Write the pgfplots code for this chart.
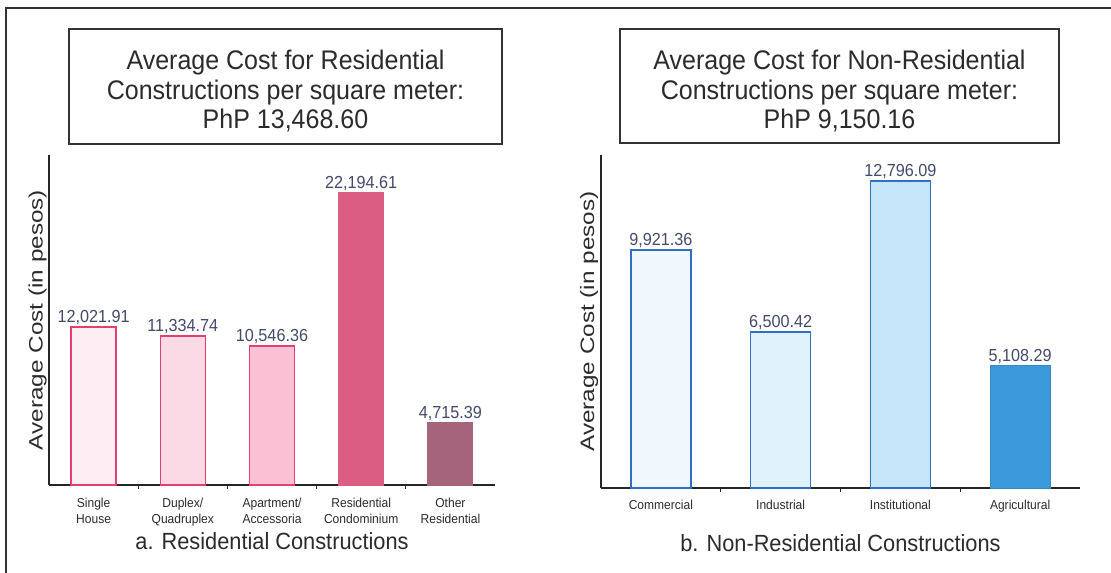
\documentclass[border=0pt]{standalone}
\usepackage{fontspec}
\setmainfont{Liberation Sans}[FakeStretch=0.93]
\newfontfamily\ylfont{Liberation Sans}[FakeStretch=1.25]
\usepackage{pgfplots}
\pgfplotsset{compat=1.18}
\definecolor{valcol}{HTML}{434A6B}
\definecolor{txt}{HTML}{2B2B2B}
\definecolor{pinkline}{HTML}{E43F6D}
\definecolor{pA}{HTML}{FDEEF3}
\definecolor{pB}{HTML}{FCDAE5}
\definecolor{pC}{HTML}{F9C1D3}
\definecolor{pD}{HTML}{DB5D84}
\definecolor{pE}{HTML}{A6637C}
\definecolor{blueline}{HTML}{2F70C4}
\definecolor{bA}{HTML}{F0F8FD}
\definecolor{bB}{HTML}{E0F3FC}
\definecolor{bC}{HTML}{C4E6F8}
\definecolor{bD}{HTML}{3A99DA}
\pgfplotsset{
  panel/.style={
    anchor=south west, scale only axis,
    ymin=0,
    axis x line=bottom, axis y line=left,
    axis line style={line width=1.2bp, black!85, -},
    ytick=\empty,
    major x tick style={draw=none},
    minor tick length=4bp, tick align=outside,
    minor x tick style={black!85, line width=1bp},
    xticklabel style={font=\fontsize{13}{16}\selectfont, align=center, text=txt},
    xlabel style={anchor=center, font=\fontsize{23.5}{28}\selectfont, text=txt},
    ylabel={Average Cost (in pesos)},
    ylabel style={anchor=center, font=\ylfont\fontsize{19.5}{24}\selectfont, text=txt},
    nodes near coords, point meta=explicit symbolic,
    every node near coord/.append style={font=\fontsize{17.5}{20}\selectfont, text=valcol, anchor=south, yshift=-2bp},
    clip=false,
  },
}
\begin{document}
\begin{tikzpicture}
\useasboundingbox (0,0) rectangle (1111bp,573bp);
\draw[line width=1.8bp, black!80] (6bp,0bp) -- (6bp,565bp) -- (1111bp,565bp);
\draw[black!80, line width=1.3bp] (69bp,544bp) rectangle (502bp,429bp);
\draw[black!80, line width=1.3bp] (620bp,544bp) rectangle (1059bp,430bp);
\node[align=center, font=\fontsize{27}{29.5}\selectfont, text=txt] at (285.5bp,482bp)
      {Average Cost for Residential\\Constructions per square meter:\\PhP 13,468.60};
\node[align=center, font=\fontsize{27}{29.5}\selectfont, text=txt] at (839.5bp,482bp)
      {Average Cost for Non-Residential\\Constructions per square meter:\\PhP 9,150.16};

\begin{axis}[panel,
  at={(49bp,88bp)}, width=446bp, height=330bp,
  xmin=-0.5, xmax=4.5, ymax=25076,
  xtick={0,1,2,3,4},
  xticklabels={{Single\\House},{Duplex/\\Quadruplex},{Apartment/\\Accessoria},{Residential\\Condominium},{Other\\Residential}},
  xticklabel style={yshift=-5bp},
  minor xtick={0.5,1.5,2.5,3.5},
  xlabel={a. Residential Constructions},
  xlabel style={at={(axis description cs:0.5,-0.1697)}},
  ylabel style={at={(axis description cs:-0.0258,0.5)}},
]
\addplot[ybar, bar shift=0pt, bar width=45bp, fill=pA, draw=pinkline, line width=1.5bp] coordinates {(0,12021.91) [12,021.91]};
\addplot[ybar, bar shift=0pt, bar width=45bp, fill=pB, draw=pinkline, line width=1.5bp] coordinates {(1,11334.74) [11,334.74]};
\addplot[ybar, bar shift=0pt, bar width=45bp, fill=pC, draw=pinkline, line width=1.5bp] coordinates {(2,10546.36) [10,546.36]};
\addplot[ybar, bar shift=0pt, bar width=45bp, fill=pD, draw=pD, line width=1bp] coordinates {(3,22194.61) [22,194.61]};
\addplot[ybar, bar shift=0pt, bar width=45bp, fill=pE, draw=pE, line width=1bp] coordinates {(4,4715.39) [4,715.39]};
\end{axis}

\begin{axis}[panel,
  at={(601bp,85bp)}, width=479bp, height=333bp,
  xmin=-0.5, xmax=3.5, ymax=13875,
  xtick={0,1,2,3},
  xticklabels={Commercial,Industrial,Institutional,Agricultural},
  xticklabel style={yshift=-4bp},
  minor xtick={0.5,1.5,2.5},
  xlabel={b. Non-Residential Constructions},
  xlabel style={at={(axis description cs:0.5,-0.165)}},
  ylabel style={at={(axis description cs:-0.025,0.5)}},
]
\addplot[ybar, bar shift=0pt, bar width=60bp, fill=bA, draw=blueline, line width=1.5bp] coordinates {(0,9921.36) [9,921.36]};
\addplot[ybar, bar shift=0pt, bar width=60bp, fill=bB, draw=blueline, line width=1.5bp] coordinates {(1,6500.42) [6,500.42]};
\addplot[ybar, bar shift=0pt, bar width=60bp, fill=bC, draw=blueline, line width=1.5bp] coordinates {(2,12796.09) [12,796.09]};
\addplot[ybar, bar shift=0pt, bar width=60bp, fill=bD, draw=bD!90!black, line width=1bp] coordinates {(3,5108.29) [5,108.29]};
\end{axis}
\end{tikzpicture}
\end{document}
